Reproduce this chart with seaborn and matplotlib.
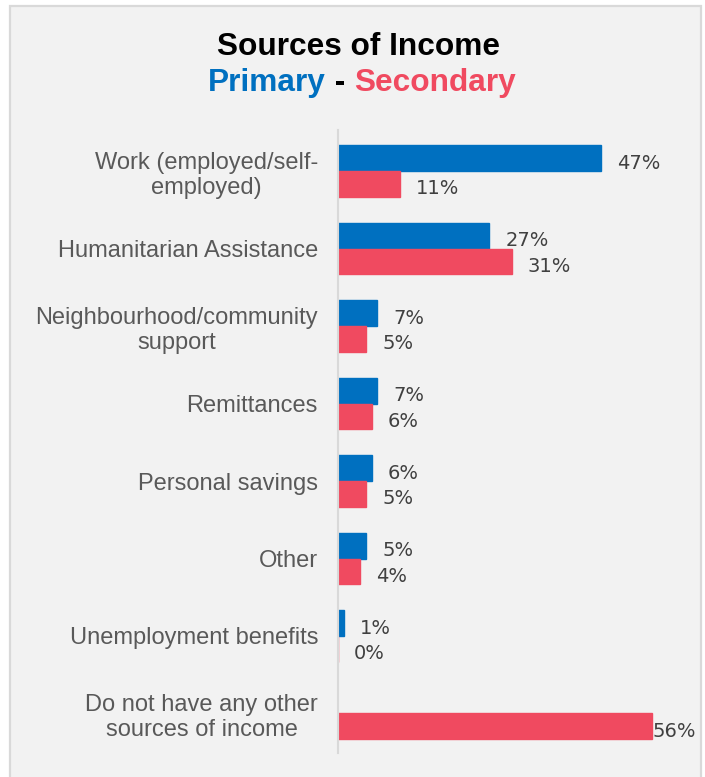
import matplotlib
matplotlib.use("Agg")
import matplotlib.pyplot as plt
import matplotlib.patches as mpatches
import pandas as pd
import seaborn as sns

# ---- data -------------------------------------------------------------
categories = [
    "Work (employed/self-\nemployed)",
    "Humanitarian Assistance",
    "Neighbourhood/community\nsupport",
    "Remittances",
    "Personal savings",
    "Other",
    "Unemployment benefits",
    "Do not have any other\nsources of income",
]
primary = [47, 27, 7, 7, 6, 5, 1, None]
secondary = [11, 31, 5, 6, 5, 4, 0, 56]
series = ["Primary", "Secondary"]

BLUE = "#0070C0"
RED = "#F04A60"
BG = "#F2F2F2"

rows = []
for cat, p, s in zip(categories, primary, secondary):
    if p is not None:
        rows.append({"category": cat, "type": "Primary", "value": p})
    if s is not None:
        rows.append({"category": cat, "type": "Secondary", "value": s})
df = pd.DataFrame(rows)

# ---- figure -----------------------------------------------------------
sns.set_theme(style="white")
plt.rcParams["font.family"] = ["Liberation Sans", "DejaVu Sans"]

W, H = 705, 777
fig = plt.figure(figsize=(W / 100, H / 100), dpi=100, facecolor="white")

# panel background with thin grey frame
frame = mpatches.Rectangle((10 / W, -0.02), 691 / W, (H - 6) / H + 0.02,
                           transform=fig.transFigure, facecolor=BG,
                           edgecolor="#D9D9D9", linewidth=1.6, zorder=-10)
fig.patches.append(frame)

ax_left, ax_right = 338, 700
ax_top, ax_bottom = 130, 753
ax = fig.add_axes([ax_left / W, (H - ax_bottom) / H,
                   (ax_right - ax_left) / W, (ax_bottom - ax_top) / H])
ax.set_facecolor("none")

sns.barplot(data=df, y="category", x="value", hue="type", order=categories,
            hue_order=series, palette=[BLUE, RED], saturation=1, orient="h",
            width=0.66, dodge=True, legend=False, errorbar=None, ax=ax)

for patch in ax.patches:
    patch.set_edgecolor(patch.get_facecolor())
    patch.set_linewidth(1.0)

px_per_unit = 5.6
ax.set_xlim(0, (ax_right - ax_left) / px_per_unit)
ax.set_ylim(7.51, -0.53)

# value labels
vmax = max(v for v in secondary + primary if v is not None)
for cont in ax.containers:
    for bar in cont:
        w = bar.get_width()
        yc = bar.get_y() + bar.get_height() / 2
        pad_px = 1 if w >= vmax else 16
        ax.annotate(f"{w:.0f}%", xy=(w, yc), xytext=(pad_px * 0.72, -10.5 * 0.72),
                    textcoords="offset points", ha="left", va="baseline",
                    fontsize=14, color="#404040", family=["DejaVu Sans"])

# axes styling
ax.set_xlabel("")
ax.set_ylabel("")
ax.set_xticks([])
for side in ["top", "right", "bottom"]:
    ax.spines[side].set_visible(False)
ax.spines["left"].set_color("#D9D9D9")
ax.spines["left"].set_linewidth(1.5)
ax.tick_params(axis="y", length=0, pad=14.4, labelsize=17, labelcolor="#595959")
for lab in ax.get_yticklabels():
    lab.set_multialignment("center")

# title
fig.text(359 / W, 1 - 47 / H, "Sources of Income", ha="center", va="center",
         fontsize=22.8, fontweight="bold", color="black")

fig.canvas.draw()
renderer = fig.canvas.get_renderer()
parts = [("Primary", BLUE), (" - ", "black"), ("Secondary", RED)]
texts = []
for s, c in parts:
    t = fig.text(0, 1 - 91 / H, s, ha="left", va="baseline", fontsize=22.8,
                 fontweight="bold", color=c)
    texts.append(t)
widths = [t.get_window_extent(renderer).width for t in texts]
x = 362 - sum(widths) / 2
for t, w in zip(texts, widths):
    t.set_x(x / W)
    x += w

fig.savefig("out.png", dpi=100, facecolor="white")
